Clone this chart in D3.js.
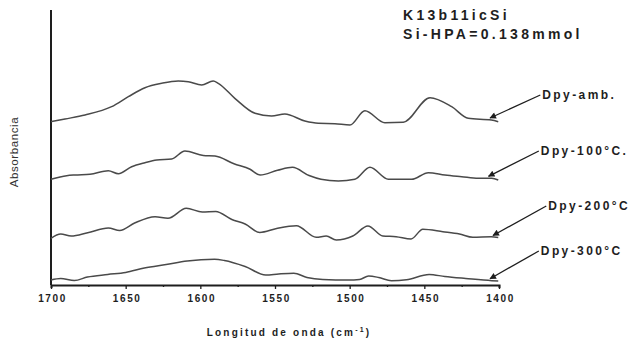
<!DOCTYPE html>
<html><head><meta charset="utf-8">
<script src="https://cdn.jsdelivr.net/npm/d3@7"></script>
<style>html,body{margin:0;padding:0;background:#fff}</style>
</head><body>
<svg id="c" width="631" height="344"></svg>
<script>
// ---- data (wavenumber cm-1, absorbance a.u., spectra offset as in the figure) ----
const seriesNames = ["Dpy-amb.", "Dpy-100°C.", "Dpy-200°C", "Dpy-300°C"];
const ambWN  = [1700,1690.6,1677.2,1659.4,1648.2,1637.1,1625.9,1614.8,1608.1,1599.1,1591.4,1588.0,1576.9,1563.4,1552.3,1543.4,1530.0,1521.0,1509.9,1499.8,1489.8,1476.4,1464.1,1446.2,1431.7,1420.6,1405.1,1400.5];
const ambAbs = [1.633,1.66,1.70,1.783,1.883,1.973,2.017,2.04,2.033,2.00,2.04,2.017,1.867,1.717,1.69,1.71,1.64,1.617,1.613,1.60,1.743,1.623,1.627,1.873,1.783,1.667,1.65,1.633];
const d100WN  = [1700,1689.5,1683.9,1673.9,1661.6,1654.9,1646.0,1637.1,1629.2,1619.2,1610.3,1598.0,1590.2,1577.5,1566.7,1560.0,1548.3,1538.3,1527.2,1519.2,1507.6,1496.5,1486.4,1474.1,1458.5,1447.3,1436.2,1425.0,1413.9,1404.9,1400.5];
const d100Abs = [1.057,1.093,1.10,1.107,1.143,1.113,1.183,1.223,1.25,1.26,1.34,1.295,1.29,1.212,1.157,1.10,1.147,1.177,1.095,1.058,1.04,1.057,1.177,1.057,1.057,1.123,1.10,1.083,1.067,1.067,1.05];
const d200WN  = [1700,1693.5,1686.5,1675.4,1661.6,1654.0,1644.0,1630.3,1621.7,1609.4,1598.7,1589.7,1578.9,1570.0,1560.2,1548.9,1535.7,1522.4,1515.7,1509.0,1497.9,1487.8,1477.8,1468.9,1458.9,1451.0,1437.6,1426.5,1417.5,1405.3,1400.5];
const d200Abs = [0.467,0.51,0.49,0.523,0.57,0.545,0.62,0.683,0.667,0.767,0.73,0.735,0.655,0.61,0.525,0.565,0.592,0.477,0.49,0.45,0.49,0.59,0.49,0.483,0.46,0.557,0.533,0.51,0.477,0.483,0.475];
const d300WN  = [1700,1693.5,1684.4,1675.6,1662,1650,1637.5,1622.9,1608.8,1590.5,1583.9,1570.0,1556.2,1547.5,1537.4,1528.6,1518,1500.9,1493.4,1487.3,1480.5,1472.0,1462.0,1446.8,1436.3,1422.3,1404.8,1400.5];
const d300Abs = [0.05,0.065,0.045,0.08,0.105,0.125,0.17,0.205,0.24,0.257,0.245,0.185,0.10,0.11,0.117,0.075,0.055,0.05,0.055,0.09,0.075,0.043,0.052,0.105,0.085,0.065,0.043,0.04];
const xTicks = [1700,1675,1650,1625,1600,1575,1550,1525,1500,1475,1450,1425,1400];
const xTickLabels = ["1700","","1650","","1600","","1550","","1500","","1450","","1400"];
// label anchor (wavenumber, absorbance) and arrow tip wavenumber
const labelWN  = [1371, 1372, 1367, 1372];
const labelAbs = [1.91, 1.35, 0.80, 0.35];
const arrowTipWN = [1406, 1407, 1404, 1406];
const titleLines = ["K13b11icSi", "Si-HPA=0.138mmol"];

const svg = d3.select("#c");
const x = d3.scaleLinear().domain([1700, 1400]).range([51, 499]);
const y = d3.scaleLinear().domain([0, 2.75]).range([285, 10]);
const ink = "#1e1e1e";
const font = "Liberation Sans, Arial, sans-serif";

const series = [[ambWN, ambAbs], [d100WN, d100Abs], [d200WN, d200Abs], [d300WN, d300Abs]]
  .map(([w, a]) => w.map((v, i) => ({w: v, a: a[i]})));

// y axis (no ticks)
svg.append("line").attr("x1", x(1700)).attr("x2", x(1700))
  .attr("y1", y(2.75)).attr("y2", y(0)).attr("stroke", ink).attr("stroke-width", 2);

// x axis
const xa = d3.axisBottom(x).tickValues(xTicks)
  .tickFormat((d, i) => xTickLabels[i]).tickSizeOuter(0).tickSize(3).tickPadding(7);
const gx = svg.append("g").attr("transform", `translate(0,${y(0)})`).call(xa);
gx.select(".domain").attr("stroke", ink).attr("stroke-width", 2);
gx.selectAll(".tick line").attr("stroke", ink).attr("stroke-width", 1.3)
  .attr("y2", (d, i) => xTickLabels[i] ? 4 : 2);
gx.selectAll(".tick text").attr("fill", ink).attr("font-family", font)
  .attr("font-size", 10).attr("font-weight", "bold").attr("letter-spacing", 1.6)
  .attr("dx", 1);

// axis titles
const xt = svg.append("text").attr("x", 289).attr("y", 336).attr("text-anchor", "middle")
  .attr("font-family", font).attr("font-size", 10).attr("font-weight", "bold")
  .attr("letter-spacing", 2.2).attr("fill", ink);
xt.append("tspan").text("Longitud de onda (cm");
xt.append("tspan").attr("font-size", 7).attr("dy", -4).text("-1");
xt.append("tspan").attr("dy", 4).text(")");

svg.append("text").attr("transform", "translate(18,152) rotate(-90)")
  .attr("text-anchor", "middle").attr("font-family", font).attr("font-size", 11.5)
  .attr("letter-spacing", 0.6).attr("fill", "#333").text("Absorbancia");

// spectra
const line = d3.line().x(d => x(d.w)).y(d => y(d.a)).curve(d3.curveMonotoneX);
svg.append("g").selectAll("path").data(series).join("path")
  .attr("d", line).attr("fill", "none").attr("stroke", "#4a4a4a").attr("stroke-width", 1.5)
  .attr("stroke-linejoin", "round");

// arrows + labels
svg.append("defs").append("marker").attr("id", "ah").attr("viewBox", "0 0 10 10")
  .attr("refX", 9).attr("refY", 5).attr("markerWidth", 7).attr("markerHeight", 5)
  .attr("orient", "auto").append("path").attr("d", "M0,0 L10,5 L0,10 z").attr("fill", ink);

seriesNames.forEach((name, i) => {
  const s = series[i];
  const tipW = arrowTipWN[i];
  const j = d3.bisector(d => -d.w).left(s, -tipW);
  const tipA = s[Math.min(j, s.length - 1)].a;
  const lx = x(labelWN[i]), ly = y(labelAbs[i]);
  svg.append("line").attr("x1", lx - 2).attr("y1", ly + 1)
    .attr("x2", x(tipW)).attr("y2", y(tipA) - 2)
    .attr("stroke", ink).attr("stroke-width", 1.3).attr("marker-end", "url(#ah)");
  svg.append("text").attr("x", lx).attr("y", ly + 4.5)
    .attr("font-family", font).attr("font-size", 12).attr("font-weight", "bold")
    .attr("letter-spacing", 2.4).attr("fill", ink).text(name);
});

// title
svg.selectAll("text.title").data(titleLines).join("text").attr("class", "title")
  .attr("x", 403).attr("y", (d, i) => 20 + i * 19)
  .attr("font-family", font).attr("font-size", 14).attr("font-weight", "bold")
  .attr("letter-spacing", 3.3).attr("fill", ink).text(d => d);
</script>
</body></html>
